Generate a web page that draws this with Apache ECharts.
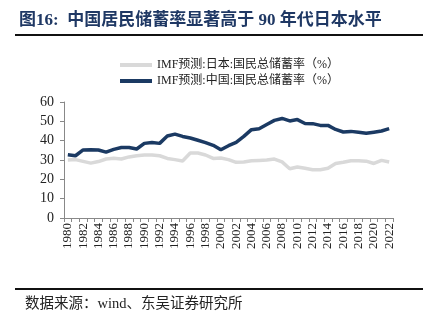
<!DOCTYPE html>
<html><head><meta charset="utf-8">
<script src="https://cdn.jsdelivr.net/npm/echarts@6/dist/echarts.min.js"></script>
<style>html,body{margin:0;padding:0;background:#fff}#c{width:437px;height:323px}</style>
</head><body><div id="c"></div>
<script>
const years = [];
for (let y = 1980; y <= 2022; y++) years.push(String(y));
const japan = [30.0,30.2,29.3,28.4,29.2,30.5,30.9,30.5,31.6,32.2,32.6,32.6,32.2,30.8,30.2,29.5,33.6,33.6,32.6,30.8,31.0,30.2,28.8,29.0,29.6,29.8,30.0,30.5,29.0,25.5,26.4,25.7,25.0,25.0,25.7,28.2,28.8,29.6,29.6,29.4,28.2,29.8,29.0];
const china = [32.7,32.2,35.2,35.3,35.2,34.1,35.5,36.5,36.5,35.7,38.6,39.1,38.6,42.4,43.4,42.2,41.4,40.2,39.0,37.6,35.3,37.4,39.1,42.2,45.7,46.2,48.4,50.5,51.5,50.2,50.9,48.9,48.8,47.9,47.9,45.8,44.5,44.8,44.3,43.8,44.4,45.0,46.2];
const seriesNames = ['IMF预测:日本:国民总储蓄率（%）','IMF预测:中国:国民总储蓄率（%）'];
const titleText = '图16:  中国居民储蓄率显著高于 90 年代日本水平';
const sourceText = '数据来源：wind、东吴证券研究所';

const serif = '"Liberation Serif","Times New Roman","Noto Sans CJK SC",serif';
const chart = echarts.init(document.getElementById('c'), null, {renderer:'canvas'});
chart.setOption({
  animation: false,
  backgroundColor: '#fff',
  title: {
    text: titleText, left: 14, top: 7,
    textStyle: {fontFamily: serif, fontSize: 17, fontWeight: 'bold', color: '#1f3864'}
  },
  graphic: [
    {type:'line', shape:{x1:15,y1:35,x2:423,y2:35}, style:{stroke:'#111', lineWidth:2}},
    {type:'line', shape:{x1:15,y1:289,x2:423,y2:289}, style:{stroke:'#111', lineWidth:2}},
    {type:'text', left: 25, top: 297, style:{text: sourceText, font: '14.5px ' + serif, fill:'#222'}}
  ],
  legend: {
    orient: 'vertical', left: 115, top: 54,
    icon: 'rect', itemWidth: 32, itemHeight: 4, itemGap: 4,
    textStyle: {fontFamily: serif, fontSize: 12, color: '#222'},
    data: seriesNames
  },
  grid: {left: 64, right: 44, top: 102, bottom: 105, containLabel: false},
  xAxis: {
    type: 'category', data: years, boundaryGap: true,
    axisLine: {lineStyle: {color: '#888', width: 1}},
    axisTick: {show: true, interval: 0, length: 4, lineStyle:{color:'#888'}},
    axisLabel: {interval: 1, rotate: 90, fontFamily: serif, fontSize: 13, color: '#222', margin: 5}
  },
  yAxis: {
    type: 'value', min: 0, max: 60, interval: 10,
    axisLine: {show: true, lineStyle: {color: '#888', width: 1}},
    axisTick: {show: true, length: 4, inside: false, lineStyle:{color:'#888'}},
    splitLine: {show: false},
    axisLabel: {fontFamily: serif, fontSize: 14, color: '#222', margin: 10}
  },
  series: [
    {name: seriesNames[0], type: 'line', data: japan, symbol: 'none', smooth: false,
     lineStyle: {color: '#d9d9d9', width: 3.5}, itemStyle: {color: '#d9d9d9'}},
    {name: seriesNames[1], type: 'line', data: china, symbol: 'none', smooth: false,
     lineStyle: {color: '#1b3a63', width: 3.5}, itemStyle: {color: '#1b3a63'}}
  ]
});
</script></body></html>
